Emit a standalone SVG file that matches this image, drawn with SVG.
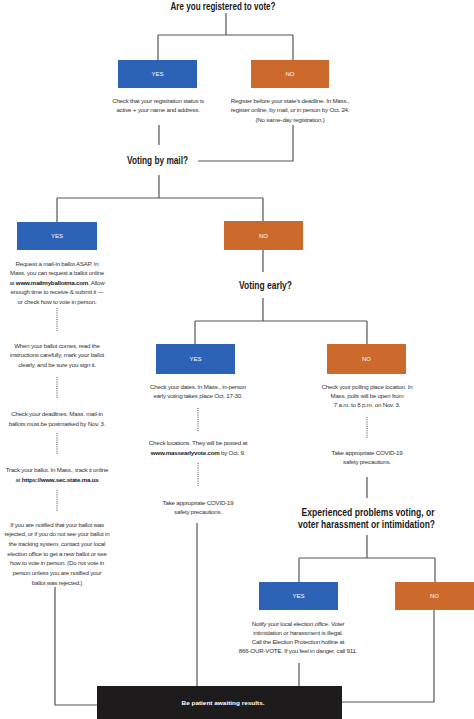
<svg xmlns="http://www.w3.org/2000/svg" width="474" height="719" viewBox="0 0 474 719">
<style>
.q{font-family:"Liberation Sans Narrow","Liberation Sans",sans-serif;font-weight:bold;fill:#1a1a1a;text-anchor:middle}
.t{font-family:"Liberation Sans Narrow","Liberation Sans",sans-serif;font-size:6.2px;letter-spacing:-0.22px;fill:#333;text-anchor:middle}
.b{font-weight:bold;fill:#1a1a1a}
.l{font-family:"Liberation Sans Narrow","Liberation Sans",sans-serif;font-size:6px;fill:#fff;text-anchor:middle}
.yes{fill:#2c63b6}
.no{fill:#cb6a2a}
.ln{fill:none;stroke:#555;stroke-width:1.2}
.dt{fill:none;stroke:#444;stroke-width:1;stroke-dasharray:1 1.2}
</style>
<rect width="474" height="719" fill="#fff"/>
<g id="connectors">
<path class="ln" d="M226,13V35M158,35H293M158,35V60M293,35V60"/>
<path class="ln" d="M159,125V145M293,125V161H198M159,175V198M57,198H263M57,198V222M263,198V221"/>
<path class="dt" d="M57,308V332M57,377V398M57,433V455M57,490V512"/>
<path class="ln" d="M55,587V705H97"/>
<path class="ln" d="M263,250V272M263,298V321M195,321H367M195,321V344M367,321V344"/>
<path class="dt" d="M198,408V432M198,463V487M367,417V438"/>
<path class="ln" d="M197,523V686M367,477V498"/>
<path class="ln" d="M367,535V558M299,558H435M299,558V582M435,558V582"/>
<path class="ln" d="M299,663V686M434,610V702H342"/>
</g>
<g id="q1"><text class="q" x="223" y="10" font-size="11" textLength="105" lengthAdjust="spacingAndGlyphs">Are you registered to vote?</text></g>
<g id="q1-yes"><rect class="yes" x="118" y="60" width="79" height="28"/><text class="l" x="157.5" y="76">YES</text></g>
<g id="q1-no"><rect class="no" x="251" y="60" width="78" height="28"/><text class="l" x="290" y="76">NO</text></g>
<g id="q1-yes-text"><text class="t" x="158" y="102.5">Check that your registration status is</text><text class="t" x="158" y="112">active + your name and address.</text></g>
<g id="q1-no-text"><text class="t" x="290" y="102.5">Register before your state’s deadline. In Mass.,</text><text class="t" x="290" y="112">register online, by mail, or in person by Oct. 24.</text><text class="t" x="290" y="121.5">(No same-day registration.)</text></g>
<g id="q2"><text class="q" x="157.5" y="163.5" font-size="10" textLength="61" lengthAdjust="spacingAndGlyphs">Voting by mail?</text></g>
<g id="q2-yes"><rect class="yes" x="17" y="222" width="80" height="28"/><text class="l" x="57" y="238">YES</text></g>
<g id="q2-no"><rect class="no" x="224" y="221" width="79" height="29"/><text class="l" x="263.5" y="237.5">NO</text></g>
<g id="mail-1"><text class="t" x="57" y="265.5">Request a mail-in ballot ASAP. In</text><text class="t" x="57" y="275">Mass. you can request a ballot online</text><text class="t" x="57" y="284.5">at <tspan class="b">www.mailmyballotma.com</tspan>. Allow</text><text class="t" x="57" y="294">enough time to receive &amp; submit it —</text><text class="t" x="57" y="304">or check how to vote in person.</text></g>
<g id="mail-2"><text class="t" x="57" y="347.5">When your ballot comes, read the</text><text class="t" x="57" y="357">instructions carefully, mark your ballot</text><text class="t" x="57" y="366.5">clearly, and be sure you sign it.</text></g>
<g id="mail-3"><text class="t" x="57" y="415.5">Check your deadlines. Mass. mail-in</text><text class="t" x="57" y="425.5">ballots must be postmarked by Nov. 3.</text></g>
<g id="mail-4"><text class="t" x="57" y="471.5">Track your ballot. In Mass., track it online</text><text class="t" x="57" y="481.5">at <tspan class="b">https://www.sec.state.ma.us</tspan></text></g>
<g id="mail-5"><text class="t" x="57" y="526.5">If you are notified that your ballot was</text><text class="t" x="57" y="536">rejected, or if you do not see your ballot in</text><text class="t" x="57" y="545.5">the tracking system, contact your local</text><text class="t" x="57" y="555.5">election office to get a new ballot or see</text><text class="t" x="57" y="565">how to vote in person. (Do not vote in</text><text class="t" x="57" y="575">person unless you are notified your</text><text class="t" x="57" y="584.5">ballot was rejected.)</text></g>
<g id="q3"><text class="q" x="265.5" y="288.5" font-size="10" textLength="53" lengthAdjust="spacingAndGlyphs">Voting early?</text></g>
<g id="q3-yes"><rect class="yes" x="156" y="344" width="79" height="30"/><text class="l" x="195.5" y="361">YES</text></g>
<g id="q3-no"><rect class="no" x="327" y="344" width="79" height="30"/><text class="l" x="366.5" y="361">NO</text></g>
<g id="early-1"><text class="t" x="198" y="388.5">Check your dates. In Mass., in-person</text><text class="t" x="198" y="397.5">early voting takes place Oct. 17-30.</text></g>
<g id="early-2"><text class="t" x="198" y="444.5">Check locations. They will be posted at</text><text class="t" x="198" y="454.5"><tspan class="b">www.massearlyvote.com</tspan> by Oct. 9.</text></g>
<g id="early-3"><text class="t" x="198" y="504.5">Take appropriate COVID-19</text><text class="t" x="198" y="513.5">safety precautions.</text></g>
<g id="poll-1"><text class="t" x="367" y="388.5">Check your polling place location. In</text><text class="t" x="367" y="397.5">Mass, polls will be open from</text><text class="t" x="367" y="406.5">7 a.m. to 8 p.m. on Nov. 3.</text></g>
<g id="poll-2"><text class="t" x="367" y="454.5">Take appropriate COVID-19</text><text class="t" x="367" y="463.5">safety precautions.</text></g>
<g id="q4"><text class="q" x="368" y="515.5" font-size="10.5" textLength="133" lengthAdjust="spacingAndGlyphs">Experienced problems voting, or</text><text class="q" x="366.5" y="527.5" font-size="10.5" textLength="137" lengthAdjust="spacingAndGlyphs">voter harassment or intimidation?</text></g>
<g id="q4-yes"><rect class="yes" x="259" y="582" width="79" height="28"/><text class="l" x="298.5" y="598">YES</text></g>
<g id="q4-no"><rect class="no" x="395" y="582" width="79" height="28"/><text class="l" x="434.5" y="598">NO</text></g>
<g id="q4-yes-text"><text class="t" x="298" y="625.5">Notify your local election office. Voter</text><text class="t" x="298" y="634.5">intimidation or harassment is illegal.</text><text class="t" x="298" y="643.5">Call the Election Protection hotline at</text><text class="t" x="298" y="652.5">866-OUR-VOTE.  If you feel in danger, call 911.</text></g>
<g id="end"><rect x="97" y="686" width="245" height="33" fill="#1d1b1b"/><text class="l" x="223" y="705" font-weight="bold" font-size="7.5" textLength="83" lengthAdjust="spacingAndGlyphs">Be patient awaiting results.</text></g>
</svg>
